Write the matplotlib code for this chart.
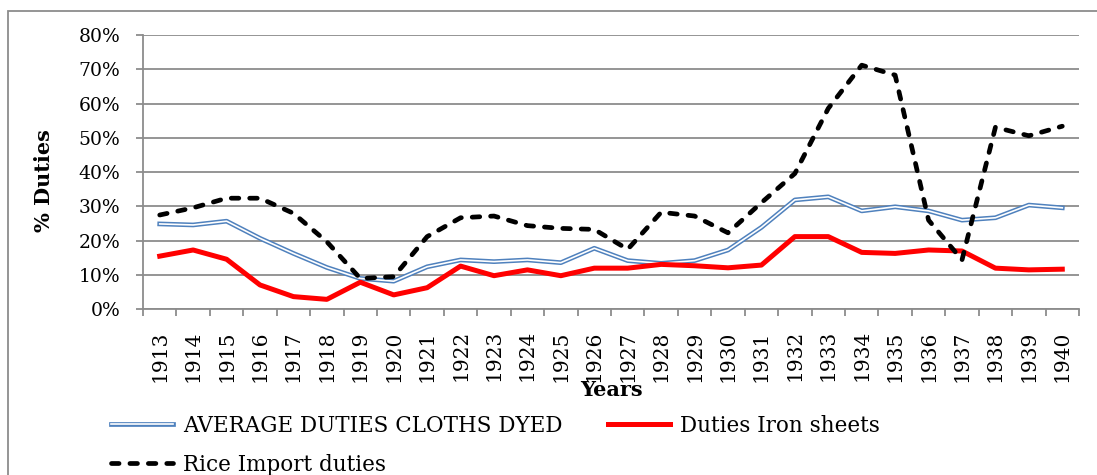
import matplotlib
matplotlib.use("Agg")
import matplotlib.pyplot as plt
import matplotlib.patheffects as pe
from matplotlib.patches import Rectangle
from matplotlib.ticker import FixedLocator, PercentFormatter

years = list(range(1913, 1941))

cloth_dyed = [24.9, 24.6, 25.7, 20.7, 16.3, 12.2, 9.0, 8.2, 12.4,
              14.4, 13.9, 14.4, 13.6, 17.8, 14.2, 13.4, 14.2, 17.3,
              23.9, 31.9, 32.8, 28.7, 29.9, 28.7, 26.0, 26.7, 30.4, 29.6]

iron_sheets = [15.5, 17.3, 14.6, 7.1, 3.7, 2.9, 7.9, 4.2, 6.3,
               12.6, 9.8, 11.5, 9.8, 12.0, 12.0, 13.1, 12.7, 12.1,
               12.9, 21.2, 21.2, 16.6, 16.3, 17.3, 17.0, 12.0, 11.5, 11.7]

rice_import = [27.5, 29.6, 32.4, 32.4, 28.0, 19.7, 9.0, 9.5, 21.2,
               26.7, 27.2, 24.4, 23.6, 23.3, 17.5, 28.3, 27.2, 22.3,
               31.1, 39.6, 58.6, 71.2, 68.3, 26.0, 14.4, 53.1, 50.6, 53.4]

series_names = ["AVERAGE DUTIES CLOTHS DYED", "Duties Iron sheets", "Rice Import duties"]

plt.rcParams["font.family"] = ["DejaVu Serif"]
GRID = "#8c8c8c"
BLUE = "#4f81bd"

W, H = 1097, 475
fig = plt.figure(figsize=(W / 100, H / 100), dpi=100)
ax = fig.add_axes([143 / W, 1 - 309.3 / H, (1079 - 143) / W, (309.3 - 35) / H])

x = list(range(len(years)))

# double-stroke line: blue outline with a white core
double_stroke = [pe.Stroke(linewidth=3.4, foreground=BLUE), pe.Normal()]
cloth_line, = ax.plot(x, cloth_dyed, color="white", lw=1.2, zorder=4,
                      path_effects=double_stroke, label=series_names[0])
iron_line, = ax.plot(x, iron_sheets, color="#ff0000", lw=3.6, zorder=5,
                     label=series_names[1])
rice_line, = ax.plot(x, rice_import, color="black", lw=3.4, dashes=(1.6, 2.3),
                     dash_capstyle="round", zorder=6, label=series_names[2])

ax.set_xlim(-0.5, len(years) - 0.5)
ax.set_ylim(0, 80)
ax.yaxis.set_major_locator(FixedLocator(range(0, 81, 10)))
ax.yaxis.set_major_formatter(PercentFormatter(decimals=0))

ax.set_xticks(x)
ax.set_xticklabels([str(y) for y in years], rotation=90)
ax.xaxis.set_minor_locator(FixedLocator([i - 0.5 for i in range(len(years) + 1)]))
ax.tick_params(axis="x", which="major", length=0, pad=15, labelsize=14.5)
ax.tick_params(axis="x", which="minor", length=5, width=1.3, color=GRID, direction="out")
ax.tick_params(axis="y", length=5, width=1.3, color=GRID, pad=11.5, labelsize=13.5)

ax.grid(axis="y", color=GRID, lw=1.3)
ax.set_axisbelow(True)
for side in ("top", "right"):
    ax.spines[side].set_visible(False)
for side in ("left", "bottom"):
    ax.spines[side].set_color(GRID)
    ax.spines[side].set_linewidth(1.3)

ax.set_ylabel("% Duties", fontsize=15, fontweight="bold")
ax.yaxis.set_label_coords((54 - 143) / 936, (309.3 - 181) / 274.3)
fig.text(611 / W, 1 - 390 / H, "Years", ha="center", va="center",
         fontsize=15, fontweight="bold")

handles = [cloth_line, rice_line, iron_line]
fig.legend(handles, [h.get_label() for h in handles], ncol=2, loc="upper left",
           bbox_to_anchor=(100 / W, 1 - 404 / H), frameon=False, borderpad=0,
           fontsize=15.5, handlelength=2.9, handletextpad=0.45,
           columnspacing=2.1, labelspacing=0.8)

fig.patches.append(Rectangle((8 / W, -0.1), 1.2, 1 - 11 / H + 0.1,
                             transform=fig.transFigure, fill=False,
                             edgecolor=GRID, lw=1.3))

fig.savefig("out.png", dpi=100)
